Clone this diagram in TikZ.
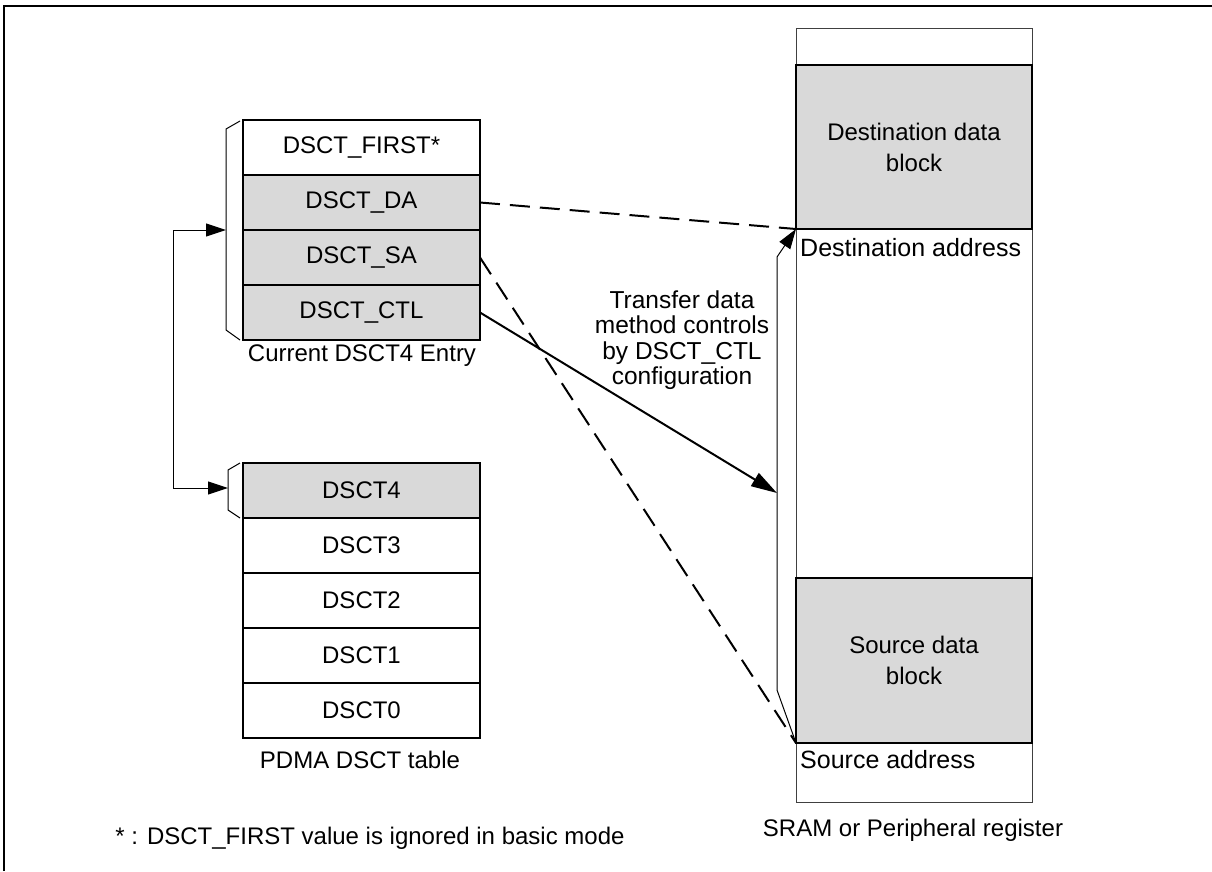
\documentclass[tikz,border=0pt]{standalone}
\usepackage{fontspec}
\setmainfont{Liberation Sans}
\usetikzlibrary{arrows.meta}
\definecolor{cellgray}{HTML}{D9D9D9}
\begin{document}
\begin{tikzpicture}[x=1pt,y=-1pt,
  txt/.style={font=\fontsize{24}{30}\selectfont, inner sep=0pt},
  cell/.style={draw, line width=2pt, minimum width=237pt, minimum height=55pt, inner sep=0pt, outer sep=0pt, font=\fontsize{24}{30}\selectfont},
  grey/.style={fill=cellgray},
  blk/.style={draw, line width=2pt, fill=cellgray, minimum width=236pt, inner sep=0pt, outer sep=0pt, align=center, font=\fontsize{24}{31}\selectfont},
  dashln/.style={line width=2pt, dash pattern=on 20pt off 10pt},
  brk/.style={line width=1pt},
  tipA/.style={-{Triangle[length=20pt,width=13pt]}},
  tipB/.style={{Triangle[length=20pt,width=13pt]}-{Triangle[length=20pt,width=13pt]}}
]
\useasboundingbox (0,0) rectangle (1212,871);
% outer frame
\draw[line width=2.5pt] (4,871) -- (4,6) -- (1212,6);

% current entry
\node[cell] (first) at (361.5,147.5) {DSCT\_FIRST*};
\node[cell,grey] (da) at (361.5,202.5) {DSCT\_DA};
\node[cell,grey] (sa) at (361.5,257.5) {DSCT\_SA};
\node[cell,grey] (ctl) at (361.5,312.5) {DSCT\_CTL};
\node[txt] (entrylbl) at (362,356) {Current DSCT4 Entry};

% DSCT table
\node[cell,grey] (d4) at (361.5,490.5) {DSCT4};
\node[cell] (d3) at (361.5,545.5) {DSCT3};
\node[cell] (d2) at (361.5,600.5) {DSCT2};
\node[cell] (d1) at (361.5,655.5) {DSCT1};
\node[cell] (d0) at (361.5,710.5) {DSCT0};
\node[txt] (tablelbl) at (360,760) {PDMA DSCT table};

% brackets on the left
\draw[brk] (240,121) -- (226,129) -- (226,330) -- (240,340);
\draw[brk] (240,463) -- (228,470) -- (228,510) -- (240,518);
\coordinate (b1) at (226,230);
\coordinate (b2) at (228,488);
\draw[brk,tipB] (b1) -- (173,230) -- (173,488) -- (b2);

% memory
\node[draw=black!75, line width=1pt, minimum width=236pt, minimum height=774pt, inner sep=0pt, outer sep=0pt] (sram) at (914,415) {};
\node[blk, minimum height=164pt] (dest) at (914,147) {Destination data\\block};
\node[blk, minimum height=165pt] (src) at (914,660.5) {Source data\\block};
\node[txt, anchor=west, font=\fontsize{25}{30}\selectfont] (dalbl) at (800,248) {Destination address};
\node[txt, anchor=west, font=\fontsize{25}{30}\selectfont] (salbl) at (800,760) {Source address};
\node[txt] (sramlbl) at (913,830) {SRAM or Peripheral register};

% right bracket
\coordinate (rb) at (777,493);
\draw[brk,tipA] (src.south west) -- (777,690) -- (777,257) -- (dest.south west);

% connectors
\draw[dashln] (da.east) -- (dest.south west);
\draw[dashln] (sa.east) -- (src.south west);
\draw[line width=2pt, -{Triangle[length=26pt,width=15pt]}] (ctl.east) -- (rb);

\node[txt, align=center, font=\fontsize{24.5}{25.5}\selectfont] (xfer) at (682,340) {Transfer data\\method controls\\by DSCT\_CTL\\configuration};

% footnote
\node[txt] (note) at (370,838) {* : DSCT\_FIRST value is ignored in basic mode};
\end{tikzpicture}
\end{document}
